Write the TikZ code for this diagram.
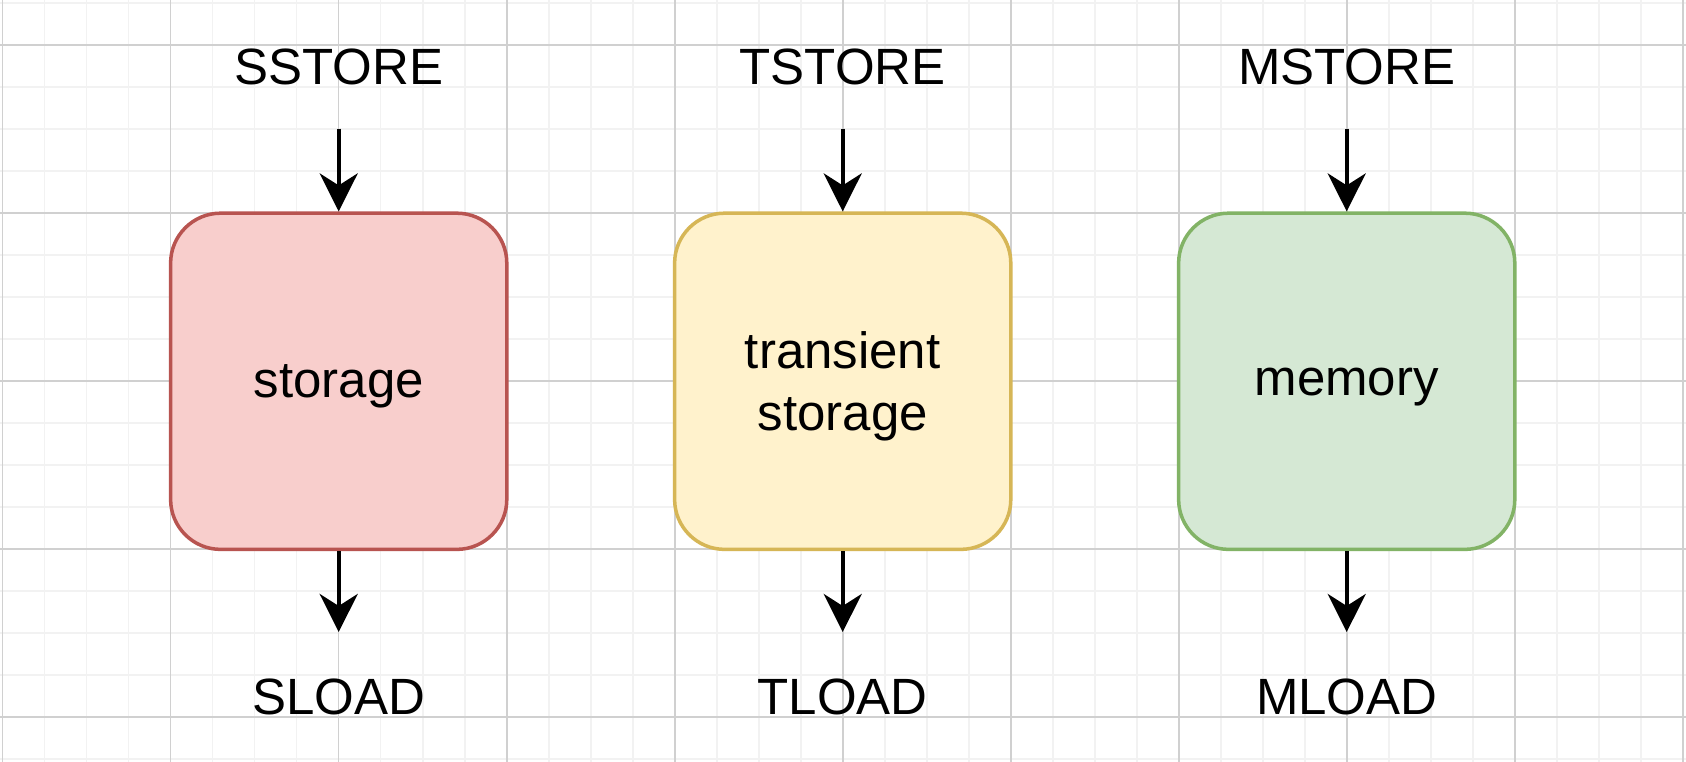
\documentclass[tikz,border=0pt]{standalone}
\usepackage{fontspec}
\setmainfont{Liberation Sans}
\usepackage{xcolor}
\usetikzlibrary{arrows.meta,positioning}

\definecolor{gridminor}{HTML}{F2F2F2}
\definecolor{gridmajor}{HTML}{D0D0D0}
\definecolor{redfill}{HTML}{F8CECC}
\definecolor{redline}{HTML}{B85450}
\definecolor{yellowfill}{HTML}{FFF2CC}
\definecolor{yellowline}{HTML}{D6B656}
\definecolor{greenfill}{HTML}{D5E8D4}
\definecolor{greenline}{HTML}{82B366}

\begin{document}
\begin{tikzpicture}[
    x=0.01cm, y=0.01cm,
    font=\fontsize{14.5pt}{17.5pt}\selectfont,
    minorline/.style={gridminor, line width=0.45pt},
    majorline/.style={gridmajor, line width=0.45pt},
    store/.style={rounded corners=0.5cm, line width=1pt,
      minimum width=3.36cm, minimum height=3.36cm,
      align=center, text depth=0pt, inner sep=0pt},
    opname/.style={inner sep=0pt},
    flow/.style={-{Stealth[length=0.38cm, width=0.38cm, inset=0.12cm]},
      line width=1.1pt}
]

% picture frame: 1686 x 762 px, one unit per pixel
\useasboundingbox[fill=white] (0,0) rectangle (1686,762);

% ---- background grid ----
\foreach \k in {0,...,40} {
  \draw[minorline] ({2.7+42*\k},0) -- ({2.7+42*\k},762);
}
\foreach \k in {0,...,18} {
  \draw[minorline] (0,{758.7-42*\k}) -- (1686,{758.7-42*\k});
}
\foreach \k in {0,...,10} {
  \draw[majorline] ({2.7+168*\k},0) -- ({2.7+168*\k},762);
}
\foreach \k in {0,...,4} {
  \draw[majorline] (0,{716.7-168*\k}) -- (1686,{716.7-168*\k});
}

% ---- storage column ----
\node[store, draw=redline, fill=redfill] (storage) at (338.7,380.7) {storage};
\node[opname] (sstore) at (338.7,695) {SSTORE};
\node[opname] (sload) at (338.7,65.5) {SLOAD};
\coordinate (sin) at (338.7,633.3);
\coordinate (sout) at (338.7,130);
\draw[flow] (sin) -- (storage.north);
\draw[flow] (storage.south) -- (sout);

% ---- transient storage column ----
\node[store, draw=yellowline, fill=yellowfill] (tstorage) at (842.7,380.7)
  {transient\\storage};
\node[opname] (tstore) at (842.7,695) {TSTORE};
\node[opname] (tload) at (842.7,65.5) {TLOAD};
\coordinate (tin) at (842.7,633.3);
\coordinate (tout) at (842.7,130);
\draw[flow] (tin) -- (tstorage.north);
\draw[flow] (tstorage.south) -- (tout);

% ---- memory column ----
\node[store, draw=greenline, fill=greenfill] (memory) at (1346.7,380.7) {memory};
\node[opname] (mstore) at (1346.7,695) {MSTORE};
\node[opname] (mload) at (1346.7,65.5) {MLOAD};
\coordinate (min) at (1346.7,633.3);
\coordinate (mout) at (1346.7,130);
\draw[flow] (min) -- (memory.north);
\draw[flow] (memory.south) -- (mout);

\end{tikzpicture}
\end{document}
